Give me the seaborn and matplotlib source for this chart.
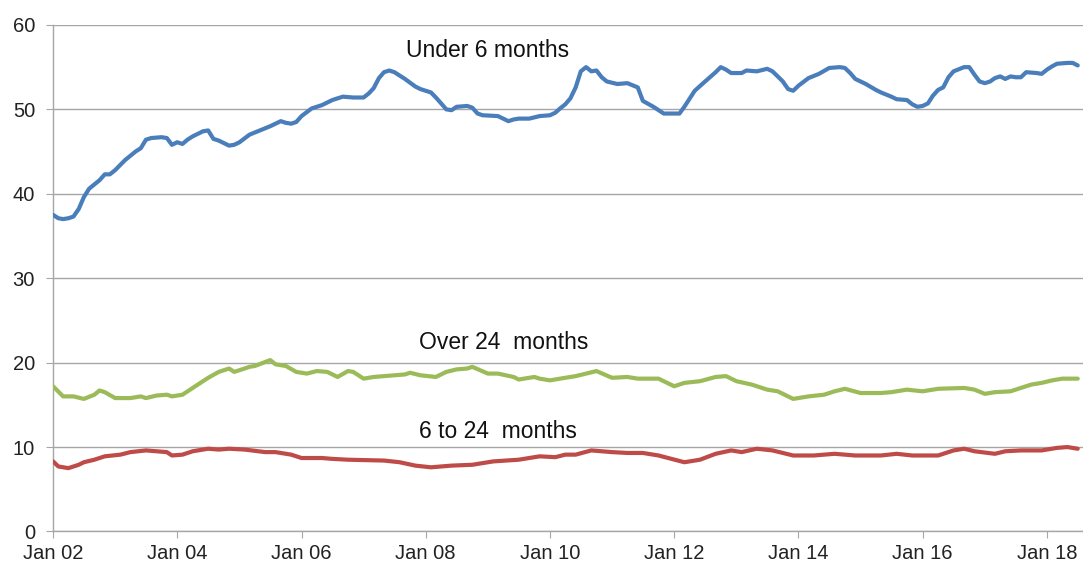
import pandas as pd
import seaborn as sns
import matplotlib.pyplot as plt
import matplotlib.dates as mdates

# months counted from Jan 2002
under6_month = [0, 1, 2, 3, 4, 5, 6, 7, 8, 9, 10, 11, 12, 14, 16, 17, 18, 19, 21, 22, 23, 24, 25, 26, 27, 29, 30,
                31, 32, 34, 35, 36, 38, 40, 42, 44, 45, 46, 47, 48, 50, 51, 52, 54, 56, 58, 60, 61, 62, 63, 64, 65,
                66, 68, 70, 71, 73, 74, 75, 76, 77, 78, 80, 81, 82, 83, 86, 88, 89, 90, 92, 94, 96, 97, 98, 99, 100,
                101, 102, 103, 104, 105, 106, 107, 109, 111, 113, 114, 116, 118, 121, 122, 124, 126, 128, 129, 130,
                131, 133, 134, 136, 138, 139, 140, 141, 142, 143, 144, 146, 148, 150, 152, 153, 154, 155, 157, 159,
                160, 162, 163, 165, 166, 167, 168, 169, 170, 171, 172, 173, 174, 176, 177, 178, 179, 180, 181, 182,
                183, 184, 185, 186, 187, 188, 190, 191, 192, 193, 194, 196, 197, 198]
under6 = [37.5, 37.1, 37.0, 37.1, 37.3, 38.2, 39.6, 40.6, 41.1, 41.6, 42.3, 42.3, 42.8, 44.0, 45.0, 45.4, 46.4, 46.6,
          46.7, 46.6, 45.8, 46.1, 45.9, 46.4, 46.8, 47.4, 47.5, 46.5, 46.3, 45.7, 45.8, 46.1, 47.0, 47.5, 48.0, 48.6,
          48.4, 48.3, 48.5, 49.2, 50.1, 50.3, 50.5, 51.1, 51.5, 51.4, 51.4, 51.9, 52.5, 53.7, 54.4, 54.6, 54.4, 53.6,
          52.7, 52.4, 52.0, 51.4, 50.7, 50.0, 49.9, 50.3, 50.4, 50.2, 49.5, 49.3, 49.2, 48.6, 48.8, 48.9, 48.9, 49.2,
          49.3, 49.6, 50.1, 50.6, 51.3, 52.6, 54.5, 55.0, 54.5, 54.6, 53.8, 53.3, 53.0, 53.1, 52.6, 51.0, 50.3, 49.5,
          49.5, 50.3, 52.2, 53.3, 54.4, 55.0, 54.7, 54.3, 54.3, 54.6, 54.5, 54.8, 54.5, 53.9, 53.3, 52.4, 52.2, 52.8,
          53.7, 54.2, 54.9, 55.0, 54.9, 54.3, 53.6, 53.0, 52.3, 52.0, 51.5, 51.2, 51.1, 50.6, 50.3, 50.4, 50.7, 51.6,
          52.3, 52.6, 53.8, 54.5, 55.0, 55.0, 54.1, 53.3, 53.1, 53.3, 53.7, 53.9, 53.6, 53.9, 53.8, 53.8, 54.4, 54.3,
          54.2, 54.7, 55.1, 55.4, 55.5, 55.5, 55.2]

over24_month = [0, 2, 4, 6, 8, 9, 10, 12, 15, 17, 18, 20, 22, 23, 25, 27, 30, 32, 34, 35, 36, 38, 39, 42, 43, 45,
                47, 49, 51, 53, 55, 57, 58, 60, 62, 66, 68, 69, 71, 74, 76, 78, 80, 81, 84, 86, 89, 90, 93, 94, 96,
                98, 101, 103, 105, 108, 111, 113, 117, 120, 122, 125, 128, 130, 132, 135, 138, 140, 143, 146, 149,
                151, 153, 156, 160, 162, 165, 168, 171, 176, 178, 180, 182, 185, 186, 189, 191, 193, 195, 198]
over24 = [17.2, 16.0, 16.0, 15.7, 16.2, 16.7, 16.5, 15.8, 15.8, 16.0, 15.8, 16.1, 16.2, 16.0, 16.2, 17.0, 18.2, 18.9,
          19.3, 18.9, 19.1, 19.5, 19.6, 20.3, 19.8, 19.6, 18.9, 18.7, 19.0, 18.9, 18.3, 19.0, 18.9, 18.1, 18.3, 18.5,
          18.6, 18.8, 18.5, 18.3, 18.9, 19.2, 19.3, 19.5, 18.7, 18.7, 18.3, 18.0, 18.3, 18.1, 17.9, 18.1, 18.4, 18.7,
          19.0, 18.2, 18.3, 18.1, 18.1, 17.2, 17.6, 17.8, 18.3, 18.4, 17.8, 17.4, 16.8, 16.6, 15.7, 16.0, 16.2, 16.6,
          16.9, 16.4, 16.4, 16.5, 16.8, 16.6, 16.9, 17.0, 16.8, 16.3, 16.5, 16.6, 16.8, 17.4, 17.6, 17.9, 18.1, 18.1]

mid_month = [0, 1, 3, 5, 6, 8, 10, 13, 15, 18, 20, 22, 23, 25, 27, 30, 32, 34, 37, 41, 43, 46, 48, 52, 54, 57, 64, 67,
             70, 73, 77, 81, 85, 90, 94, 97, 99, 101, 104, 108, 111, 114, 117, 122, 125, 128, 131, 133, 136, 139,
             143, 147, 151, 155, 160, 163, 166, 171, 174, 176, 178, 182, 184, 187, 191, 194, 196, 198]
mid = [8.3, 7.7, 7.5, 7.9, 8.2, 8.5, 8.9, 9.1, 9.4, 9.6, 9.5, 9.4, 9.0, 9.1, 9.5, 9.8, 9.7, 9.8, 9.7, 9.4, 9.4, 9.1,
       8.7, 8.7, 8.6, 8.5, 8.4, 8.2, 7.8, 7.6, 7.8, 7.9, 8.3, 8.5, 8.9, 8.8, 9.1, 9.1, 9.6, 9.4, 9.3, 9.3, 9.0, 8.2,
       8.5, 9.2, 9.6, 9.4, 9.8, 9.6, 9.0, 9.0, 9.2, 9.0, 9.0, 9.2, 9.0, 9.0, 9.6, 9.8, 9.5, 9.2, 9.5, 9.6, 9.6, 9.9,
       10.0, 9.8]

months = pd.date_range("2002-01-01", periods=200, freq="MS")

frames = []
for name, m, v in [("Under 6 months", under6_month, under6),
                   ("Over 24 months", over24_month, over24),
                   ("6 to 24 months", mid_month, mid)]:
    frames.append(pd.DataFrame({"date": months[m], "value": v, "series": name}))
df = pd.concat(frames, ignore_index=True)

colours = {"Under 6 months": "#4A7EBB", "Over 24 months": "#9BBB59", "6 to 24 months": "#BE4B48"}

sns.set_style("white")
plt.rcParams["font.family"] = ["Liberation Sans", "DejaVu Sans"]

fig = plt.figure(figsize=(10.83, 5.66), dpi=100)
ax = fig.add_axes([0.049, 0.061, 0.951, 0.895])
sns.lineplot(data=df, x="date", y="value", hue="series", palette=colours, linewidth=3,
             legend=False, ax=ax, zorder=3)

ax.set_ylim(0, 60)
ax.set_yticks(range(0, 61, 10))
ax.set_xlim(months[0], months[199])
ax.xaxis.set_major_locator(mdates.YearLocator(2, month=1, day=1))
ax.xaxis.set_major_formatter(mdates.DateFormatter("%b %y"))
ax.grid(axis="y", color="#A6A6A6", linewidth=1)
ax.set_xlabel("")
ax.set_ylabel("")
for side in ["top", "right"]:
    ax.spines[side].set_visible(False)
for side in ["left", "bottom"]:
    ax.spines[side].set_color("#A6A6A6")
    ax.spines[side].set_linewidth(1)
ax.tick_params(axis="both", length=5, color="#A6A6A6", labelsize=14.5, labelcolor="#222222", direction="out")
ax.tick_params(axis="both", left=True, bottom=True)
ax.tick_params(axis="y", pad=8)
ax.tick_params(axis="x", pad=4)

ax.text(months[84], 57.0, "Under 6 months", ha="center", va="center", fontsize=16.5, color="#111111")
ax.text(months[87], 22.4, "Over 24  months", ha="center", va="center", fontsize=16.5, color="#111111")
ax.text(months[86], 11.9, "6 to 24  months", ha="center", va="center", fontsize=16.5, color="#111111")

fig.savefig("out.png", dpi=100)
